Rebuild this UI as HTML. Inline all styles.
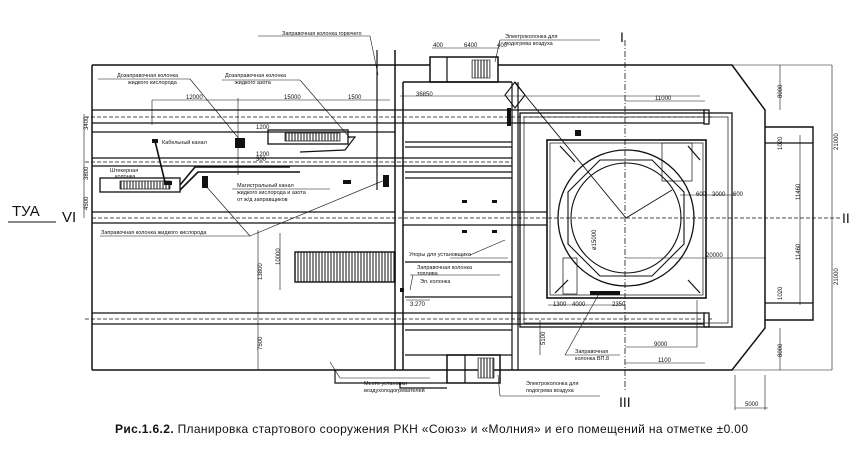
<!DOCTYPE html>
<html><head><meta charset="utf-8"><style>
body{margin:0;background:#fff;}
svg{display:block;font-family:"Liberation Sans","DejaVu Sans",sans-serif;}
.t{font-size:5.5px;fill:#111}
.d{font-size:6px;fill:#111}
</style></head><body>
<svg width="860" height="456" viewBox="0 0 860 456" xmlns="http://www.w3.org/2000/svg">
<defs>
<pattern id="h" width="3" height="10" patternUnits="userSpaceOnUse"><rect width="3" height="10" fill="#fff"/><line x1="1" y1="0" x2="1" y2="10" stroke="#111" stroke-width="1"/></pattern>
</defs>
<rect width="860" height="456" fill="#fff"/>
<g stroke="#111" fill="none" stroke-width="1.2">
<polyline points="92,65 430,65" stroke-width="1.5"/>
<polyline points="498,65 732,65 765,110 765,328 732,370 335,370" stroke-width="1.5"/>
<line x1="92" y1="65" x2="92" y2="370" stroke-width="1.5"/>
<line x1="92" y1="370" x2="335" y2="370" stroke-width="1.5"/>
<polyline points="765,127 813,127 813,320 765,320" stroke-width="1.4"/>
<line x1="765" y1="303" x2="813" y2="303"/>
<line x1="765" y1="143" x2="813" y2="143"/>
<rect x="430" y="57" width="68" height="25" stroke-width="1.5"/>
<line x1="447" y1="57" x2="447" y2="82"/>
<rect x="472" y="60" width="18" height="18" fill="url(#h)" stroke-width="0.6"/>
<rect x="447" y="355" width="53" height="28" stroke-width="1.5"/>
<line x1="465" y1="355" x2="465" y2="383"/>
<rect x="478" y="358" width="16" height="20" fill="url(#h)" stroke-width="0.6"/>
<polyline points="335,370 335,383 447,383"/>
<polyline points="400,383 400,388 447,388"/>
<line x1="377" y1="50" x2="377" y2="190"/>
<line x1="395" y1="50" x2="395" y2="370" stroke-width="1.5"/>
<line x1="403" y1="82" x2="403" y2="370" stroke-width="1.5"/>
<line x1="512" y1="82" x2="512" y2="370"/>
<line x1="518" y1="82" x2="518" y2="370"/>
<line x1="403" y1="82" x2="512" y2="82" stroke-width="1.4"/>
<line x1="405" y1="142" x2="512" y2="142"/>
<line x1="405" y1="147" x2="512" y2="147"/>
<line x1="405" y1="172" x2="512" y2="172"/>
<line x1="405" y1="178" x2="512" y2="178"/>
<line x1="405" y1="297" x2="512" y2="297"/>
<line x1="405" y1="330" x2="512" y2="330"/>
<line x1="405" y1="355" x2="512" y2="355"/>
<line x1="405" y1="262" x2="512" y2="262"/>
<g stroke-width="1.3">
<line x1="92" y1="110" x2="705" y2="110"/><line x1="92" y1="123" x2="705" y2="123"/>
<line x1="92" y1="132" x2="395" y2="132"/>
<line x1="92" y1="158" x2="512" y2="158"/><line x1="92" y1="166" x2="512" y2="166"/>
<line x1="92" y1="212" x2="395" y2="212"/><line x1="92" y1="223" x2="395" y2="223"/>
<line x1="92" y1="313" x2="705" y2="313"/><line x1="92" y1="324" x2="705" y2="324"/>
<line x1="403" y1="212" x2="547" y2="212"/><line x1="403" y1="225" x2="547" y2="225"/>
</g>
<g stroke-dasharray="4,2" stroke-width="0.8">
<line x1="85" y1="117" x2="712" y2="117"/>
<line x1="85" y1="162" x2="512" y2="162"/>
<line x1="85" y1="319" x2="712" y2="319"/>
<line x1="92" y1="218" x2="840" y2="218"/>
<line x1="625" y1="40" x2="625" y2="392" stroke-dasharray="6,2,1,2"/>
</g>
<rect x="704" y="110" width="5" height="14" fill="#fff" stroke-width="1.3"/>
<rect x="704" y="313" width="5" height="14" fill="#fff" stroke-width="1.3"/>
<rect x="520" y="113" width="212" height="214" stroke-width="1.3"/>
<rect x="524" y="117" width="204" height="206" stroke-width="0.7"/>
<rect x="547" y="140" width="159" height="158" stroke-width="1.6"/>
<rect x="550" y="143" width="153" height="152" stroke-width="0.7"/>
<circle cx="626" cy="218" r="68" stroke-width="1.3"/>
<polygon points="600,160 652,160 684,192 684,244 652,276 600,276 568,244 568,192" stroke-width="1.1"/>
<circle cx="626" cy="218" r="55" stroke-width="1.1"/>
<line x1="515" y1="83" x2="626" y2="218" stroke-width="0.9"/>
<line x1="626" y1="218" x2="672" y2="190" stroke-width="0.9"/>
<polygon points="515,82 505,95 515,108 525,95" stroke-width="1.1"/>
<line x1="560" y1="146" x2="575" y2="162"/><line x1="688" y1="146" x2="700" y2="160"/>
<line x1="555" y1="293" x2="568" y2="280"/><line x1="700" y1="293" x2="688" y2="280"/>
<rect x="662" y="143" width="30" height="38" stroke-width="0.7"/>
<rect x="563" y="258" width="14" height="36" stroke-width="0.7"/>
<rect x="295" y="252" width="100" height="30" fill="url(#h)" stroke-width="1.4"/>
<rect x="100" y="178" width="80" height="14" stroke-width="1.3"/>
<rect x="120" y="181" width="50" height="8" fill="url(#h)" stroke-width="0.7"/>
<rect x="268" y="130" width="80" height="14" stroke-width="1.3"/>
<rect x="285" y="133" width="55" height="8" fill="url(#h)" stroke-width="0.7"/>
<polyline points="180,185 195,167 290,167" stroke-width="1.6"/><polyline points="180,190 198,172 300,172" stroke-width="1.6"/>
<polyline points="348,137 355,137 345,150 300,152"/>
<g stroke-width="0.6">
<line x1="152" y1="100" x2="390" y2="100"/><line x1="152" y1="100" x2="152" y2="125"/>
<line x1="238" y1="98" x2="238" y2="175"/>
<line x1="84" y1="114" x2="84" y2="218"/>
<line x1="258" y1="230" x2="258" y2="370"/>
<line x1="280" y1="233" x2="280" y2="290"/>
<line x1="400" y1="96" x2="700" y2="96"/>
<line x1="625" y1="101" x2="705" y2="101"/>
<line x1="432" y1="48" x2="500" y2="48"/>
<line x1="832" y1="65" x2="832" y2="370"/>
<line x1="800" y1="135" x2="800" y2="305"/>
<line x1="732" y1="65" x2="832" y2="65"/><line x1="732" y1="370" x2="832" y2="370"/>
<line x1="780" y1="65" x2="780" y2="110"/><line x1="780" y1="328" x2="780" y2="370"/>
<line x1="625" y1="258" x2="766" y2="258"/>
<line x1="625" y1="347" x2="697" y2="347"/><line x1="625" y1="363" x2="705" y2="363"/>
<line x1="697" y1="300" x2="697" y2="347"/>
<line x1="735" y1="375" x2="735" y2="410"/><line x1="765" y1="375" x2="765" y2="410"/>
<line x1="735" y1="408" x2="768" y2="408"/>
<line x1="548" y1="305" x2="625" y2="305"/>
<line x1="540" y1="320" x2="540" y2="355"/>
<line x1="406" y1="300" x2="430" y2="300"/>
<line x1="680" y1="195" x2="735" y2="195"/>
</g>
<g stroke-width="0.6">
<line x1="258" y1="36" x2="370" y2="36"/><line x1="370" y1="36" x2="378" y2="75"/>
<line x1="500" y1="40" x2="600" y2="40"/><line x1="500" y1="40" x2="495" y2="62"/>
<line x1="500" y1="396" x2="600" y2="396"/><line x1="500" y1="396" x2="498" y2="375"/>
<line x1="98" y1="79" x2="190" y2="79"/><line x1="190" y1="79" x2="240" y2="140"/>
<line x1="222" y1="80" x2="300" y2="80"/><line x1="300" y1="80" x2="350" y2="138"/>
<line x1="100" y1="236" x2="250" y2="236"/><line x1="250" y1="236" x2="385" y2="180"/>
<line x1="250" y1="236" x2="205" y2="185"/>
<line x1="232" y1="189" x2="330" y2="189"/>
<line x1="340" y1="378" x2="430" y2="378"/><line x1="340" y1="378" x2="330" y2="362"/>
<line x1="565" y1="355" x2="620" y2="355"/><line x1="565" y1="355" x2="600" y2="292"/>
<line x1="410" y1="275" x2="500" y2="275"/>
<line x1="450" y1="258" x2="508" y2="258"/>
<line x1="413" y1="275" x2="410" y2="290"/>
<line x1="470" y1="255" x2="505" y2="240"/>
<line x1="155" y1="141" x2="165" y2="182" stroke-width="1.6"/>
</g>
</g>
<g fill="#111">
<rect x="152" y="139" width="6" height="4"/><rect x="235" y="138" width="10" height="10"/>
<rect x="202" y="176" width="6" height="12"/><rect x="383" y="175" width="6" height="12"/>
<rect x="164" y="181" width="8" height="4"/><rect x="343" y="180" width="8" height="4"/>
<rect x="462" y="200" width="5" height="3"/><rect x="492" y="200" width="5" height="3"/>
<rect x="462" y="230" width="5" height="3"/><rect x="492" y="230" width="5" height="3"/>
<rect x="507" y="108" width="4" height="18"/><rect x="400" y="288" width="4" height="4"/>
<rect x="590" y="291" width="30" height="4"/><rect x="575" y="130" width="6" height="6"/>
</g>
<g class="t">
<text x="282" y="35">Заправочная колонка горючего</text>
<text x="505" y="38">Электроколонка для</text><text x="505" y="45">подогрева воздуха</text>
<text x="117" y="77">Дозаправочная колонка</text><text x="128" y="84">жидкого кислорода</text>
<text x="225" y="77">Дозаправочная колонка</text><text x="235" y="84">жидкого азота</text>
<text x="162" y="144">Кабельный канал</text>
<text x="110" y="172">Штекерная</text><text x="115" y="178">колонка</text>
<text x="237" y="187">Магистральный канал</text><text x="237" y="194">жидкого кислорода и азота</text><text x="237" y="201">от ж/д заправщиков</text>
<text x="101" y="234">Заправочная колонка жидкого кислорода</text>
<text x="409" y="256">Упоры для установщика</text>
<text x="417" y="269">Заправочная колонка</text><text x="417" y="275">топлива</text>
<text x="420" y="283">Эл. колонка</text>
<text x="364" y="385">Место установки</text><text x="364" y="392">воздухоподогревателей</text>
<text x="526" y="385">Электроколонка для</text><text x="526" y="392">подогрева воздуха</text>
<text x="575" y="353">Заправочная</text><text x="575" y="360">колонка ВП.8</text>
</g>
<g class="d">
<text x="186" y="99">12000</text><text x="284" y="99">15000</text><text x="348" y="99">1500</text>
<text x="256" y="129">1200</text><text x="256" y="156">1200</text><text x="256" y="161">300</text>
<text x="416" y="96">36850</text><text x="655" y="100">11000</text>
<text x="433" y="47">400</text><text x="464" y="47">6400</text><text x="497" y="47">400</text>
<text x="696" y="196">600</text><text x="712" y="196">3000</text><text x="733" y="196">600</text>
<text x="706" y="257">20000</text><text x="654" y="346">9000</text><text x="658" y="362">1100</text>
<text x="745" y="406">5000</text>
<text x="553" y="306">1300</text><text x="572" y="306">4000</text><text x="612" y="306">2350</text>
<text x="410" y="306">3.270</text>
<g transform="rotate(-90)">
<text x="-130" y="88">3400</text><text x="-180" y="88">3800</text><text x="-210" y="88">4500</text>
<text x="-280" y="262">13800</text><text x="-350" y="262">7500</text><text x="-265" y="280">10000</text>
<text x="-345" y="545">5100</text><text x="-150" y="838">21000</text><text x="-285" y="838">21000</text>
<text x="-98" y="782">8000</text><text x="-357" y="782">8000</text>
<text x="-150" y="782">1020</text><text x="-300" y="782">1020</text>
<text x="-200" y="800">11460</text><text x="-260" y="800">11460</text>
<text x="-250" y="596">ø15000</text>
</g>
</g>
<text x="12" y="216" font-size="15" fill="#111">ТУА</text>
<line x1="8" y1="222" x2="56" y2="222" stroke="#111"/>
<text x="62" y="222" font-size="15" fill="#111">VI</text>
<text x="842" y="223" font-size="14" fill="#111">II</text>
<text x="620" y="42" font-size="14" fill="#111">I</text>
<text x="619" y="407" font-size="14" fill="#111">III</text>
<text x="115" y="433" font-size="12" fill="#111" textLength="633" lengthAdjust="spacing"><tspan font-weight="bold">Рис.1.6.2.</tspan> Планировка стартового сооружения РКН «Союз» и «Молния» и его помещений на отметке ±0.00</text>
</svg>
</body></html>
